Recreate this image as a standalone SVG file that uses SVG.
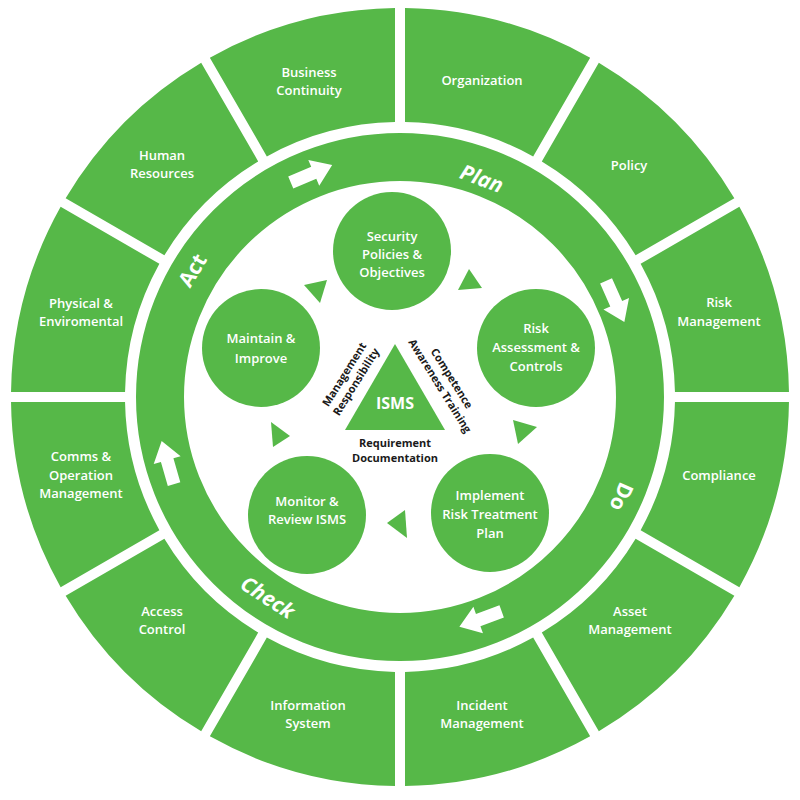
<svg xmlns="http://www.w3.org/2000/svg" xmlns:xlink="http://www.w3.org/1999/xlink" width="800" height="800" viewBox="0 0 800 800">
<defs>
<path id="seg" d="M405,8.03 A389,389 0 0 1 590.15,57.64 L533.15,156.38 A275,275 0 0 0 405,122.05 Z"/>
<path id="barrow" d="M-22,-6.5 H3 V-14 L23,0 L3,14 V6.5 H-22 Z"/>
<style>
.g{fill:#56b848}
.w{fill:#ffffff}
.lbl{font-family:"Open Sans","Noto Sans","DejaVu Sans",sans-serif;font-weight:600;font-size:13px;fill:#ffffff;text-anchor:middle}
.pd{font-family:"Open Sans","Noto Sans","DejaVu Sans",sans-serif;font-weight:700;font-size:21px;fill:#ffffff;text-anchor:middle;dominant-baseline:central}
.it{font-style:italic}
.ctr{font-family:"Open Sans","Noto Sans","DejaVu Sans",sans-serif;font-weight:700;font-size:11px;fill:#1a1a1a;text-anchor:middle}
.isms{font-family:"Open Sans","Noto Sans","DejaVu Sans",sans-serif;font-weight:700;font-size:16px;fill:#ffffff;text-anchor:middle}
</style>
</defs>
<rect width="800" height="800" fill="#ffffff"/>

<g id="outer-ring">
<g id="organization"><use href="#seg" class="g" transform="rotate(0 400 397)"/><text class="lbl" x="482" y="84.5">Organization</text></g>
<g id="policy"><use href="#seg" class="g" transform="rotate(30 400 397)"/><text class="lbl" x="629" y="169.5">Policy</text></g>
<g id="risk-management"><use href="#seg" class="g" transform="rotate(60 400 397)"/><text class="lbl" x="719" y="306.5">Risk</text><text class="lbl" x="719" y="325.5">Management</text></g>
<g id="compliance"><use href="#seg" class="g" transform="rotate(90 400 397)"/><text class="lbl" x="719" y="479.5">Compliance</text></g>
<g id="asset-management"><use href="#seg" class="g" transform="rotate(120 400 397)"/><text class="lbl" x="630" y="615.5">Asset</text><text class="lbl" x="630" y="633.5">Management</text></g>
<g id="incident-management"><use href="#seg" class="g" transform="rotate(150 400 397)"/><text class="lbl" x="482" y="709.5">Incident</text><text class="lbl" x="482" y="727.5">Management</text></g>
<g id="information-system"><use href="#seg" class="g" transform="rotate(180 400 397)"/><text class="lbl" x="308" y="709.5">Information</text><text class="lbl" x="308" y="727.5">System</text></g>
<g id="access-control"><use href="#seg" class="g" transform="rotate(210 400 397)"/><text class="lbl" x="162" y="615.5">Access</text><text class="lbl" x="162" y="633.5">Control</text></g>
<g id="comms-operation"><use href="#seg" class="g" transform="rotate(240 400 397)"/><text class="lbl" x="81" y="460.5">Comms &amp;</text><text class="lbl" x="81" y="479.5">Operation</text><text class="lbl" x="81" y="497.5">Management</text></g>
<g id="physical-environmental"><use href="#seg" class="g" transform="rotate(270 400 397)"/><text class="lbl" x="81" y="307.5">Physical &amp;</text><text class="lbl" x="81" y="325.5">Enviromental</text></g>
<g id="human-resources"><use href="#seg" class="g" transform="rotate(300 400 397)"/><text class="lbl" x="162" y="159.5">Human</text><text class="lbl" x="162" y="177.5">Resources</text></g>
<g id="business-continuity"><use href="#seg" class="g" transform="rotate(330 400 397)"/><text class="lbl" x="309" y="76.5">Business</text><text class="lbl" x="309" y="94.5">Continuity</text></g>
</g>

<g id="pdca-band">
<circle cx="400" cy="397" r="240" fill="none" stroke="#56b848" stroke-width="48"/>
<use href="#barrow" class="w" transform="translate(311 174) rotate(-23)"/>
<use href="#barrow" class="w" transform="translate(615 301) rotate(66)"/>
<use href="#barrow" class="w" transform="translate(481 619) rotate(160)"/>
<use href="#barrow" class="w" transform="translate(168 463) rotate(-106)"/>
<text class="pd it" transform="translate(482 178) rotate(20.5)">Plan</text>
<text class="pd" transform="translate(622 497) rotate(114)">Do</text>
<text class="pd it" transform="translate(268 597) rotate(33)">Check</text>
<text class="pd" transform="translate(192 270) rotate(-59)">Act</text>
</g>

<g id="connectors">
<polygon class="g" points="304,285 327,280 320,303"/>
<polygon class="g" points="469,269 458,290 482,288"/>
<polygon class="g" points="513,420 537,427 518,444"/>
<polygon class="g" points="387,523 405,510 407,538"/>
<polygon class="g" points="271,422 290,436 273,447"/>
</g>

<g id="security-policies">
<circle class="g" cx="392" cy="251" r="59"/>
<text class="lbl" x="392" y="240.5">Security</text><text class="lbl" x="392" y="258.5">Policies &amp;</text><text class="lbl" x="392" y="276.5">Objectives</text>
</g>
<g id="risk-assessment">
<circle class="g" cx="536" cy="348" r="59"/>
<text class="lbl" x="536" y="332.5">Risk</text><text class="lbl" x="536" y="351.5">Assessment &amp;</text><text class="lbl" x="536" y="370.5">Controls</text>
</g>
<g id="implement-risk-treatment">
<circle class="g" cx="490" cy="513" r="59"/>
<text class="lbl" x="490" y="499.5">Implement</text><text class="lbl" x="490" y="518.5">Risk Treatment</text><text class="lbl" x="490" y="537.5">Plan</text>
</g>
<g id="monitor-review">
<circle class="g" cx="307" cy="515" r="59"/>
<text class="lbl" x="307" y="505.5">Monitor &amp;</text><text class="lbl" x="307" y="523.5">Review ISMS</text>
</g>
<g id="maintain-improve">
<circle class="g" cx="261" cy="348" r="59"/>
<text class="lbl" x="261" y="342.5">Maintain &amp;</text><text class="lbl" x="261" y="362.5">Improve</text>
</g>

<g id="isms">
<polygon class="g" points="395,344 345,430 445,430"/>
<text class="isms" x="395" y="409">ISMS</text>
<g transform="translate(350 378) rotate(-58)">
<text class="ctr" x="0" y="-3">Management</text>
<text class="ctr" x="0" y="11">Responsibility</text>
</g>
<g transform="translate(446 382) rotate(58)">
<text class="ctr" x="0" y="-3">Competence</text>
<text class="ctr" x="0" y="11">Awareness Training</text>
</g>
<text class="ctr" x="395" y="447">Requirement</text>
<text class="ctr" x="395" y="462">Documentation</text>
</g>
</svg>
